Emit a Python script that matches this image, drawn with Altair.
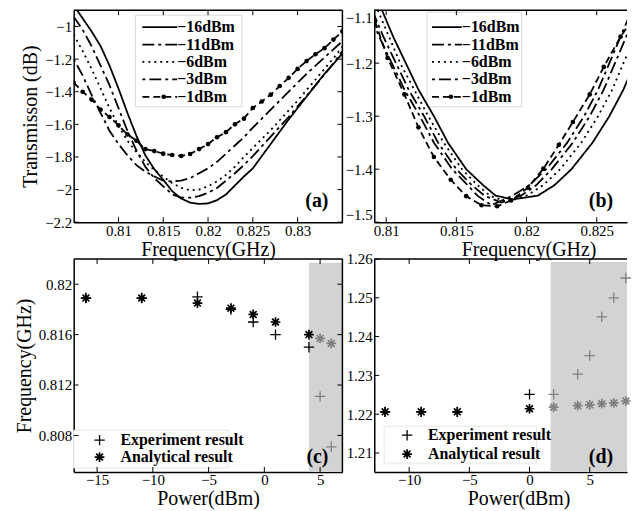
import altair as alt
import pandas as pd

FONT = "Liberation Serif"
SERIES = ["−16dBm", "−11dBm", "−6dBm", "−3dBm", "−1dBm"]
DASHES = [[1, 0], [12, 4, 3, 4], [2, 4], [3, 4, 12, 4], [7, 4]]

# ---------------- panel (a) ----------------
a_freq = [0.805, 0.806, 0.807, 0.808, 0.809, 0.810, 0.811, 0.812, 0.813, 0.814,
          0.815, 0.816, 0.817, 0.818, 0.819, 0.820, 0.821, 0.822, 0.823, 0.824,
          0.825, 0.826, 0.827, 0.828, 0.829, 0.830, 0.831, 0.832, 0.833, 0.834, 0.835]
a_m16 = [-0.87, -0.95, -1.03, -1.12, -1.24, -1.38, -1.53, -1.67, -1.79, -1.875,
         -1.94, -2.01, -2.055, -2.08, -2.088, -2.085, -2.065, -2.03, -1.975, -1.92,
         -1.87, -1.795, -1.72, -1.645, -1.57, -1.50, -1.43, -1.36, -1.29, -1.23, -1.165]
a_m11 = [-0.94, -1.02, -1.12, -1.24, -1.36, -1.50, -1.64, -1.76, -1.86, -1.93,
         -1.98, -2.03, -2.05, -2.05, -2.04, -2.02, -1.99, -1.945, -1.90, -1.85,
         -1.795, -1.735, -1.675, -1.615, -1.555, -1.49, -1.425, -1.36, -1.295, -1.225, -1.15]
a_m6 = [-1.05, -1.15, -1.26, -1.38, -1.50, -1.61, -1.70, -1.77, -1.83, -1.88,
        -1.92, -1.96, -1.99, -2.005, -2.0, -1.98, -1.95, -1.91, -1.86, -1.80,
        -1.745, -1.69, -1.635, -1.575, -1.515, -1.455, -1.39, -1.325, -1.26, -1.195, -1.125]
a_m3 = [-1.20, -1.30, -1.42, -1.53, -1.64, -1.72, -1.79, -1.85, -1.89, -1.92,
        -1.945, -1.95, -1.945, -1.93, -1.90, -1.87, -1.83, -1.78, -1.73, -1.68,
        -1.62, -1.565, -1.51, -1.455, -1.40, -1.345, -1.29, -1.24, -1.19, -1.14, -1.09]
a_m1 = [-1.345, -1.40, -1.448, -1.51, -1.555, -1.606, -1.662, -1.70, -1.752, -1.764,
        -1.78, -1.788, -1.794, -1.782, -1.752, -1.721, -1.679, -1.648, -1.60, -1.565,
        -1.50, -1.46, -1.418, -1.365, -1.315, -1.26, -1.212, -1.17, -1.133, -1.08, -1.03]
a_xticks = [0.81, 0.815, 0.82, 0.825, 0.83]
a_yticks = [-2.2, -2.0, -1.8, -1.6, -1.4, -1.2, -1.0]

# ---------------- panel (b) ----------------
b_f_m16 = [0.8097, 0.8105, 0.8114, 0.8123, 0.8134, 0.8144, 0.8157, 0.8169, 0.8178, 0.8190,
           0.8208, 0.8220, 0.8232, 0.8247, 0.8259, 0.8269, 0.8277, 0.8285, 0.8293]
b_f_m11 = [0.8090, 0.8098, 0.8107, 0.8116, 0.8127, 0.8137, 0.8150, 0.8161, 0.8170, 0.8182,
           0.8196, 0.8207, 0.8218, 0.8233, 0.8245, 0.8255, 0.8263, 0.8271, 0.8279]
b_f_m6 = [0.8094, 0.8102, 0.8110, 0.8120, 0.8130, 0.8141, 0.8154, 0.8165, 0.8174, 0.8186,
          0.8200, 0.8212, 0.8224, 0.8239, 0.8251, 0.8261, 0.8269, 0.8277, 0.8285]
b_f_m3 = [0.8087, 0.8095, 0.8104, 0.8113, 0.8124, 0.8134, 0.8147, 0.8158, 0.8165, 0.8175,
          0.8190, 0.8202, 0.8214, 0.8229, 0.8241, 0.8251, 0.8259, 0.8267, 0.8275]
b_db_m16 = [-1.10, -1.15, -1.20, -1.25, -1.30, -1.35, -1.40, -1.43, -1.45, -1.457,
            -1.45, -1.43, -1.40, -1.35, -1.30, -1.25, -1.20, -1.15, -1.10]
b_db_m11 = [-1.10, -1.15, -1.20, -1.25, -1.30, -1.35, -1.40, -1.43, -1.45, -1.463,
            -1.45, -1.43, -1.40, -1.35, -1.30, -1.25, -1.20, -1.15, -1.10]
b_db_m6 = [-1.10, -1.15, -1.20, -1.25, -1.30, -1.35, -1.40, -1.43, -1.45, -1.462,
           -1.45, -1.43, -1.40, -1.35, -1.30, -1.25, -1.20, -1.15, -1.10]
b_db_m3 = [-1.10, -1.15, -1.20, -1.25, -1.30, -1.35, -1.40, -1.43, -1.45, -1.468,
           -1.45, -1.43, -1.40, -1.35, -1.30, -1.25, -1.20, -1.15, -1.10]
b_f_m1 = [0.8092, 0.8101, 0.8113, 0.8123, 0.8134, 0.8146, 0.8157, 0.8168, 0.8179, 0.8189,
          0.8201, 0.8212, 0.8223, 0.8233, 0.8245, 0.8255, 0.8267, 0.8277]
b_db_m1 = [-1.121, -1.190, -1.259, -1.321, -1.377, -1.420, -1.451, -1.468, -1.470, -1.459,
           -1.435, -1.399, -1.354, -1.311, -1.259, -1.207, -1.150, -1.111]
b_xticks = [0.81, 0.815, 0.82, 0.825]
b_yticks = [-1.5, -1.4, -1.3, -1.2, -1.1]

# ---------------- panel (c) ----------------
c_power = [-16, -11, -6, -3, -1, 1, 4, 5, 6]
c_exp = [0.8189, 0.8189, 0.8190, 0.8180, 0.8170, 0.8160, 0.8150, 0.8111, 0.8071]
c_ana = [0.8189, 0.8189, 0.8185, 0.8181, 0.8176, 0.8170, 0.8160, 0.8157, 0.8153]
c_shaded = [0, 0, 0, 0, 0, 0, 0, 1, 1]
c_region = [4.0, 7.0, 0.8051, 0.8217]
c_xticks = [-15, -10, -5, 0, 5]
c_yticks = [0.808, 0.812, 0.816, 0.82]

# ---------------- panel (d) ----------------
d_power = [-12, -9, -6, 0, 2, 4, 5, 6, 7, 8]
d_exp = [1.2206, 1.2206, 1.2206, 1.2251, 1.2251, 1.2303, 1.2351, 1.2451, 1.2500, 1.2551]
d_ana = [1.2206, 1.2206, 1.2206, 1.2214, 1.2218, 1.2222, 1.2224, 1.2227, 1.2229, 1.2234]
d_shaded = [0, 0, 0, 0, 1, 1, 1, 1, 1, 1]
d_region = [1.75, 8.1, 1.2051, 1.2592]
d_xticks = [-10, -5, 0, 5]
d_yticks = [1.21, 1.22, 1.23, 1.24, 1.25, 1.26]

LEG_SC = ["Experiment result", "Analytical result"]
PLUS = "M-1,0L1,0M0,-1L0,1"
STAR = "M-1,0L1,0M0,-1L0,1M-0.7,-0.7L0.7,0.7M-0.7,0.7L0.7,-0.7"
SHADE = "#d3d3d3"
GREYPT = "#808080"

WL, WR = 270, 254
HT, HB = 213, 214
TL = 5  # inner tick length

dash_scale = alt.Scale(domain=SERIES, range=DASHES)


def dummy():
    return pd.DataFrame({"k": [0]})


def frame_layers(xs, ys, xaxis, xt, yt, W, H, right):
    xdf = pd.DataFrame({"x": xt})
    ydf = pd.DataFrame({"y": yt})
    rule = dict(color="black", strokeWidth=1)
    lay = [
        alt.Chart(xdf).mark_rule(**rule).encode(
            x=alt.X("x:Q", scale=xs, axis=xaxis), y=alt.value(H), y2=alt.value(H - TL)),
        alt.Chart(xdf).mark_rule(**rule).encode(
            x=alt.X("x:Q", scale=xs, axis=xaxis), y=alt.value(0), y2=alt.value(TL)),
        alt.Chart(ydf).mark_rule(**rule).encode(
            y=alt.Y("y:Q", scale=ys, axis=None), x=alt.value(0), x2=alt.value(TL)),
        alt.Chart(dummy()).mark_rule(color="black", strokeWidth=1.5).encode(
            x=alt.value(0), x2=alt.value(W), y=alt.value(0)),
    ]
    if right:
        lay.append(alt.Chart(ydf).mark_rule(**rule).encode(
            y=alt.Y("y:Q", scale=ys, axis=None), x=alt.value(W - TL), x2=alt.value(W)))
        lay.append(alt.Chart(dummy()).mark_rule(color="black", strokeWidth=1.5).encode(
            x=alt.value(W), y=alt.value(0), y2=alt.value(H)))
    return lay


def curve_panel(curves, xdom, ydom, xt, yt, W, H, ytitle, label, box, rows, xs_leg, right,
                title_x=None, yflush=False):
    rowsdf = []
    for s, f, d in curves:
        rowsdf.append(pd.DataFrame({"series": s, "x": f, "y": d}))
    df = pd.concat(rowsdf, ignore_index=True)
    xs = alt.Scale(domain=xdom, nice=False, zero=False)
    ys = alt.Scale(domain=ydom, nice=False, zero=False)
    xkw = dict(values=xt, format="~r", title="Frequency(GHz)", titlePadding=1, labelPadding=1)
    if title_x is not None:
        xkw["titleX"] = title_x
    xaxis = alt.Axis(**xkw)
    ykw = dict(values=yt, format="~r", title=ytitle, titlePadding=4)
    if yflush:
        ykw["labelFlush"] = True
    yaxis = alt.Axis(**ykw)

    bx0, bx1, by0, by1 = box
    boxl = alt.Chart(dummy()).mark_rect(fill="white", stroke="#dadada", strokeWidth=1).encode(
        x=alt.value(bx0), x2=alt.value(bx1), y=alt.value(by0), y2=alt.value(by1))
    lines = alt.Chart(df).mark_line(color="black", strokeWidth=1.8, clip=True).encode(
        x=alt.X("x:Q", scale=xs, axis=xaxis),
        y=alt.Y("y:Q", scale=ys, axis=yaxis),
        strokeDash=alt.StrokeDash("series:N", scale=dash_scale, legend=None),
    )
    marks = alt.Chart(df).transform_filter(alt.datum.series == SERIES[4]).mark_circle(
        color="black", size=22, opacity=1, clip=True).encode(
        x=alt.X("x:Q", scale=xs, axis=xaxis), y=alt.Y("y:Q", scale=ys, axis=None))

    legdf = pd.DataFrame({"series": SERIES, "row": [0, 1, 2, 3, 4]})
    ly = alt.Y("row:Q", scale=alt.Scale(domain=[0, 4], range=rows), axis=None)
    lx0, lx1, ltx = xs_leg
    leg_lines = alt.Chart(legdf).mark_rule(color="black", strokeWidth=1.8).encode(
        x=alt.value(lx0), x2=alt.value(lx1), y=ly,
        strokeDash=alt.StrokeDash("series:N", scale=dash_scale, legend=None))
    leg_mark = alt.Chart(legdf).transform_filter(alt.datum.row == 4).mark_circle(
        color="black", size=22, opacity=1).encode(x=alt.value((lx0 + lx1) / 2 + 4), y=ly)
    leg_text = alt.Chart(legdf).mark_text(
        align="left", baseline="middle", font=FONT, fontSize=16, fontWeight="bold",
        color="black").encode(x=alt.value(ltx), y=ly, text="series:N")
    lab = alt.Chart(dummy()).mark_text(
        text=label, font=FONT, fontSize=20, fontWeight="bold", align="right",
        baseline="middle", color="black").encode(x=alt.value(W - 14), y=alt.value(H - 21))

    layers = [boxl, lines, marks] + frame_layers(xs, ys, xaxis, xt, yt, W, H, right) + \
             [leg_lines, leg_mark, leg_text, lab]
    return alt.layer(*layers).resolve_scale(y="independent").properties(width=W, height=H)


def scatter_panel(power, exp, ana, shaded, region, xdom, ydom, xt, yt, W, H, ytitle, label,
                  box, rows, xs_leg, right, title_x=None):
    df = pd.DataFrame({"x": power, "exp": exp, "ana": ana, "sh": shaded})
    xs = alt.Scale(domain=xdom, nice=False, zero=False)
    ys = alt.Scale(domain=ydom, nice=False, zero=False)
    xkw = dict(values=xt, format="~r", title="Power(dBm)", titlePadding=1, labelPadding=1)
    if title_x is not None:
        xkw["titleX"] = title_x
    xaxis = alt.Axis(**xkw)
    yaxis = alt.Axis(values=yt, format="~r", title=ytitle, titlePadding=4)

    regdf = pd.DataFrame({"x": [region[0]], "x2": [region[1]], "y": [region[3]], "y2": [region[2]]})
    shade = alt.Chart(regdf).mark_rect(color=SHADE).encode(
        x=alt.X("x:Q", scale=xs, axis=xaxis), x2="x2:Q",
        y=alt.Y("y:Q", scale=ys, axis=yaxis), y2="y2:Q")
    bx0, bx1, by0, by1 = box
    boxl = alt.Chart(dummy()).mark_rect(fill="white", stroke="#e6e6e6", strokeWidth=1).encode(
        x=alt.value(bx0), x2=alt.value(bx1), y=alt.value(by0), y2=alt.value(by1))

    def pts(field, shape, size, sw, shaded_flag, col):
        return alt.Chart(df).transform_filter(alt.datum.sh == shaded_flag).mark_point(
            shape=shape, size=size, strokeWidth=sw, filled=False, color=col, opacity=1).encode(
            x=alt.X("x:Q", scale=xs, axis=xaxis),
            y=alt.Y(field + ":Q", scale=ys, axis=None))

    p1 = pts("exp", PLUS, 110, 1.3, 0, "black")
    p2 = pts("ana", STAR, 95, 1.7, 0, "black")
    p3 = pts("exp", PLUS, 110, 1.3, 1, GREYPT)
    p4 = pts("ana", STAR, 95, 1.7, 1, GREYPT)

    legdf = pd.DataFrame({"name": LEG_SC, "row": [0, 1]})
    ly = alt.Y("row:Q", scale=alt.Scale(domain=[0, 1], range=rows), axis=None)
    sx, tx = xs_leg
    l1 = alt.Chart(legdf).transform_filter(alt.datum.row == 0).mark_point(
        shape=PLUS, size=110, strokeWidth=1.3, filled=False, color="black", opacity=1).encode(
        x=alt.value(sx), y=ly)
    l2 = alt.Chart(legdf).transform_filter(alt.datum.row == 1).mark_point(
        shape=STAR, size=95, strokeWidth=1.7, filled=False, color="black", opacity=1).encode(
        x=alt.value(sx), y=ly)
    lt = alt.Chart(legdf).mark_text(
        align="left", baseline="middle", font=FONT, fontSize=16, fontWeight="bold",
        color="black").encode(x=alt.value(tx), y=ly, text="name:N")
    lab = alt.Chart(dummy()).mark_text(
        text=label, font=FONT, fontSize=20, fontWeight="bold", align="right",
        baseline="middle", color="black").encode(x=alt.value(W - 14), y=alt.value(H - 15))

    layers = [shade, boxl, p1, p2, p3, p4] + frame_layers(xs, ys, xaxis, xt, yt, W, H, right) + \
             [l1, l2, lt, lab]
    return alt.layer(*layers).resolve_scale(y="independent").properties(width=W, height=H)


pa = curve_panel(
    list(zip(SERIES, [a_freq] * 5, [a_m16, a_m11, a_m6, a_m3, a_m1])),
    [0.805, 0.835], [-2.2, -0.9], a_xticks, a_yticks, WL, HT, "Transmisson (dB)", "(a)",
    box=(62, 169, 5, 97), rows=[17, 87], xs_leg=(69, 104, 104), right=True)

pb = curve_panel(
    list(zip(SERIES, [b_f_m16, b_f_m11, b_f_m6, b_f_m3, b_f_m1],
             [b_db_m16, b_db_m11, b_db_m6, b_db_m3, b_db_m1])),
    [0.80915, 0.82716], [-1.5, -1.1], b_xticks, b_yticks, WR, HT, "", "(b)",
    box=(53, 148, 2, 97), rows=[17, 87], xs_leg=(58, 88, 88), right=False,
    title_x=155, yflush=True)

pc = scatter_panel(
    c_power, c_exp, c_ana, c_shaded, c_region, [-17.1, 7.0], [0.8051, 0.8220],
    c_xticks, c_yticks, WL, HB, "Frequency(GHz)", "(c)",
    box=(0, 155, 172, 210), rows=[182, 199], xs_leg=(26, 47), right=True)

pd_ = scatter_panel(
    d_power, d_exp, d_ana, d_shaded, d_region, [-12.9, 8.1], [1.2051, 1.2600],
    d_xticks, d_yticks, WR, HB, "", "(d)",
    box=(10, 163, 168, 205), rows=[177, 196], xs_leg=(33, 54), right=False, title_x=145)

chart = alt.concat(pa, pb, pc, pd_, columns=2, spacing={"row": 37, "column": 32},
                   bounds="flush").properties(
    padding={"left": 6, "top": 0, "right": 0, "bottom": 0},
    background="white",
).configure_view(stroke=None).configure_axis(
    labelFont=FONT, titleFont=FONT, labelFontSize=15, titleFontSize=20,
    titleFontWeight="normal", labelColor="black", titleColor="black",
    domainColor="black", domainWidth=1.5, ticks=False, grid=False
)

chart.save("out.html", embed_options={"renderer": "svg", "actions": False})
